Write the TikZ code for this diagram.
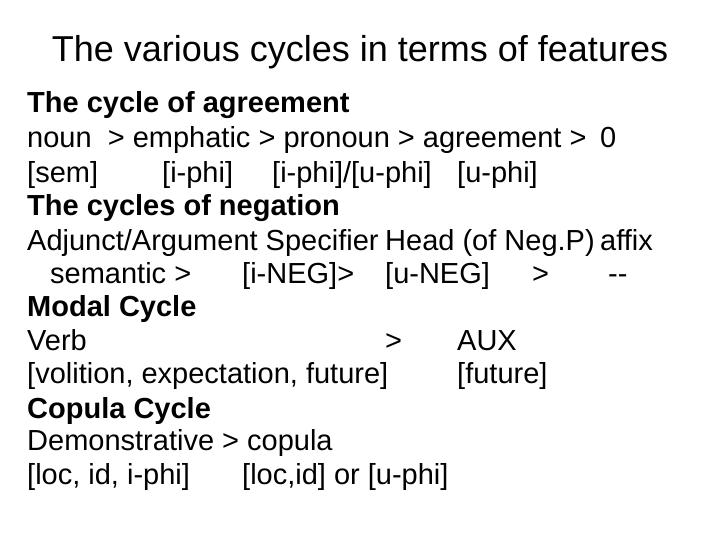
\documentclass[tikz,border=0pt]{standalone}
\usepackage{fontspec}
\setmainfont{Liberation Sans}
\begin{document}
\begin{tikzpicture}[x=1pt,y=-1pt,
  t/.style={anchor=base west,inner sep=0pt,font=\fontsize{29}{29}\selectfont},
  b/.style={t,font=\fontsize{29}{29}\selectfont\bfseries}]
\useasboundingbox[fill=white] (0,0) rectangle (720,540);
\node[anchor=base,inner sep=0pt,font=\fontsize{36}{36}\selectfont] (title) at (360,62) {The various cycles in terms of features};
\node[b] (l1) at (27,113) {The cycle of agreement};
\node[t] (l2a) at (27,148) {noun\ \ > emphatic > pronoun > agreement >};
\node[t] (l2b) at (600,148) {0};
\node[t] (l3a) at (27,183) {[sem]};
\node[t] (l3b) at (162,183) {[i-phi]};
\node[t] (l3c) at (272,183) {[i-phi]/[u-phi]};
\node[t] (l3d) at (457,183) {[u-phi]};
\node[b] (l4) at (27,215) {The cycles of negation};
\node[t] (l5a) at (27,250) {Adjunct/Argument Specifier};
\node[t] (l5b) at (385,250) {Head (of Neg.P)};
\node[t] (l5c) at (600,250) {affix};
\node[t] (l6a) at (50,283) {semantic >};
\node[t] (l6b) at (242,283) {[i-NEG]>};
\node[t] (l6c) at (385,283) {[u-NEG]};
\node[t] (l6d) at (532,283) {>};
\node[t] (l6e) at (608,283) {-{}-};
\node[b] (l7) at (27,316) {Modal Cycle};
\node[t] (l8a) at (27,350) {Verb};
\node[t] (l8b) at (385,350) {>};
\node[t] (l8c) at (457,350) {AUX};
\node[t] (l9a) at (27,383) {[volition, expectation, future]};
\node[t] (l9b) at (457,383) {[future]};
\node[b] (l10) at (27,418) {Copula Cycle};
\node[t] (l11) at (27,450) {Demonstrative > copula};
\node[t] (l12a) at (27,484) {[loc, id, i-phi]};
\node[t] (l12b) at (242,484) {[loc,id] or [u-phi]};
\end{tikzpicture}
\end{document}
